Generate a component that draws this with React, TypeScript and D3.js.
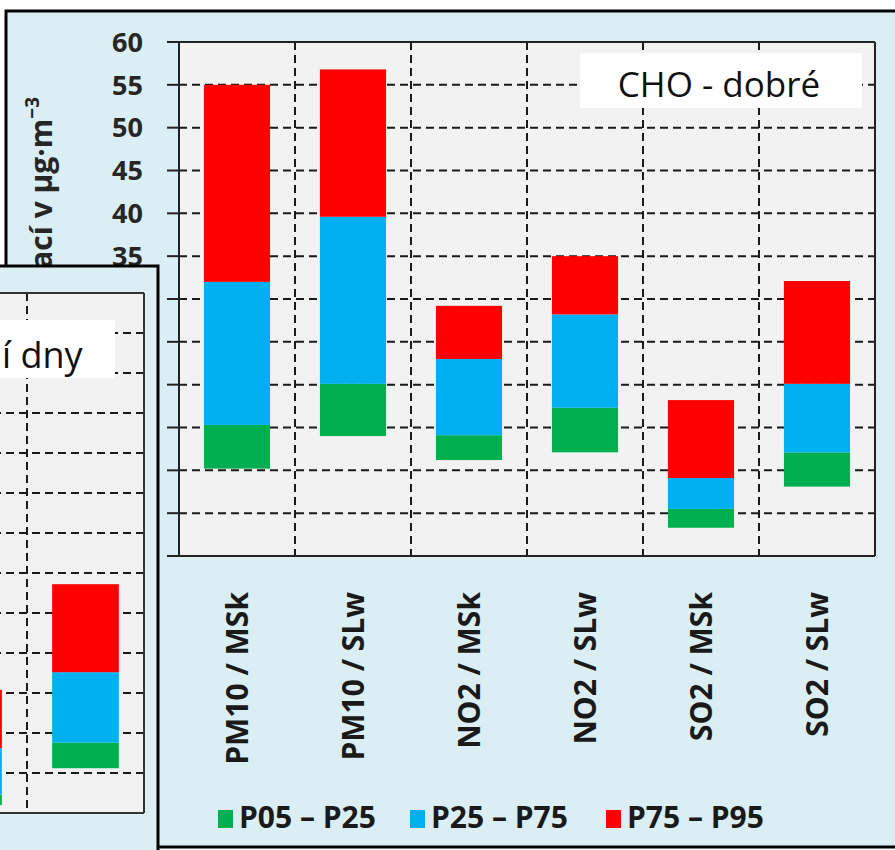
import React from "react";
import * as d3 from "d3";

// Main chart (CHO - dobré)
const categories = ["PM10 / MSk", "PM10 / SLw", "NO2 / MSk", "NO2 / SLw", "SO2 / MSk", "SO2 / SLw"];
const p05 = [10.2, 14.0, 11.2, 12.1, 3.3, 8.1];
const p25 = [15.3, 20.1, 14.1, 17.3, 5.5, 12.1];
const p75 = [32.0, 39.6, 23.0, 28.2, 9.1, 20.1];
const p95 = [55.0, 56.8, 29.2, 35.0, 18.2, 32.1];
const yTicks = [0, 5, 10, 15, 20, 25, 30, 35, 40, 45, 50, 55, 60];

// Overlapping chart (only its last two categories are visible)
const smallCategories = ["SO2 / MSk", "SO2 / SLw"];
const smallP05 = [1.0, 5.6];
const smallP25 = [2.3, 8.8];
const smallP75 = [8.1, 17.6];
const smallP95 = [15.4, 28.6];
const smallTicks = [0, 5, 10, 15, 20, 25, 30, 35, 40, 45, 50, 55, 60, 65];

const seriesNames = ["P05 – P25", "P25 – P75", "P75 – P95"];
const seriesColors = ["#00B050", "#00B0F0", "#FF0000"];

const FONT = "'Open Sans', 'DejaVu Sans', sans-serif";
const PANEL = "#DAEEF3";
const PLOT = "#F2F2F2";
const GRID = "#1a1a1a";

export default function App() {
  const W = 895, H = 850;
  // main plot geometry
  const pl = 179, pr = 875, pt = 42, pb = 556;
  const x = d3.scaleBand<string>().domain(categories).range([pl, pr]).paddingInner(0.43).paddingOuter(0.215);
  const y = d3.scaleLinear().domain([0, 60]).range([pb, pt]);
  const step = x.step();

  const stacks = categories.map((c, i) => [
    [p05[i], p25[i]],
    [p25[i], p75[i]],
    [p75[i], p95[i]],
  ]);

  // small plot geometry
  const sl = -90, sr = 144, st = 293, sb = 813;
  const sx = d3.scaleBand<string>().domain(smallCategories).range([sl, sr]).paddingInner(0.43).paddingOuter(0.215);
  const sy = d3.scaleLinear().domain([0, 65]).range([sb, st]);
  const sstep = sx.step();
  const sstacks = smallCategories.map((c, i) => [
    [smallP05[i], smallP25[i]],
    [smallP25[i], smallP75[i]],
    [smallP75[i], smallP95[i]],
  ]);

  const legendX = [218, 410, 606];

  return (
    <div style={{ position: "absolute", left: 0, top: 0 }}>
      <svg width={W} height={H} style={{ display: "block", fontFamily: FONT }}>
        <rect x={0} y={0} width={W} height={H} fill="#ffffff" />

        {/* ===== main panel ===== */}
        <rect x={6} y={11} width={W + 20} height={836} fill={PANEL} stroke="#000" strokeWidth={3} />
        <rect x={pl} y={pt} width={pr - pl} height={pb - pt} fill={PLOT} />

        {/* horizontal grid */}
        {yTicks.filter((t) => t > 0 && t < 60).map((t) => (
          <line key={"hg" + t} x1={pl} x2={pr} y1={y(t)} y2={y(t)} stroke={GRID} strokeWidth={2} strokeDasharray="8,5" />
        ))}
        {/* vertical grid at category boundaries */}
        {categories.slice(1).map((c) => {
          const bx = (x(c) as number) - (step * x.paddingInner()) / 2;
          return <line key={"vg" + c} x1={bx} x2={bx} y1={pt} y2={pb} stroke={GRID} strokeWidth={2} strokeDasharray="8,5" />;
        })}

        {/* bars */}
        {categories.map((c, i) =>
          stacks[i].map((seg, k) => (
            <rect
              key={c + k}
              x={x(c)}
              width={x.bandwidth()}
              y={y(seg[1])}
              height={y(seg[0]) - y(seg[1])}
              fill={seriesColors[k]}
            />
          ))
        )}

        {/* plot borders and axis */}
        <line x1={pl - 12} x2={pr} y1={pt} y2={pt} stroke="#222" strokeWidth={2} />
        <line x1={pl - 12} x2={pr} y1={pb} y2={pb} stroke="#222" strokeWidth={2} />
        <line x1={pl} x2={pl} y1={pt} y2={pb} stroke="#222" strokeWidth={2} />
        <line x1={pr} x2={pr} y1={pt} y2={pb} stroke="#222" strokeWidth={2} />
        {yTicks.map((t) => (
          <line key={"tk" + t} x1={pl - 12} x2={pl} y1={y(t)} y2={y(t)} stroke="#222" strokeWidth={2} />
        ))}
        {yTicks.map((t) => (
          <text key={"tl" + t} x={143} y={y(t)} dy="0.36em" textAnchor="end" fontSize={27} fontWeight={700} fill="#262626">
            {t}
          </text>
        ))}

        {/* title box */}
        <rect x={580} y={53} width={282} height={55} fill="#ffffff" />
        <text x={719} y={97} textAnchor="middle" fontSize={35} fill="#111">
          CHO - dobré
        </text>

        {/* y axis label */}
        <text transform={`translate(52,97) rotate(-90)`} textAnchor="end" fontSize={30} fontWeight={700} fill="#262626">
          Rozsah koncentrací v µg·m
          <tspan baselineShift="super" fontSize={19}>−3</tspan>
        </text>

        {/* x labels */}
        {categories.map((c) => (
          <text
            key={"xl" + c}
            transform={`translate(${(x(c) as number) + x.bandwidth() / 2},592) rotate(-90)`}
            dy="0.36em"
            textAnchor="end"
            fontSize={30}
            fontWeight={700}
            fill="#1a1a1a"
          >
            {c}
          </text>
        ))}

        {/* legend */}
        {seriesNames.map((s, k) => (
          <g key={"lg" + s}>
            <rect x={legendX[k]} y={810} width={15} height={18} fill={seriesColors[k]} />
            <text x={legendX[k] + 21} y={828} fontSize={30} fontWeight={700} fill="#1a1a1a">
              {s}
            </text>
          </g>
        ))}

        {/* ===== overlapping panel ===== */}
        <rect x={-20} y={266} width={178} height={620} fill={PANEL} stroke="#000" strokeWidth={3} />
        <rect x={-20} y={st} width={sr + 20} height={sb - st} fill={PLOT} />
        {smallTicks.filter((t) => t > 0 && t < 65).map((t) => (
          <line key={"shg" + t} x1={-20} x2={sr} y1={sy(t)} y2={sy(t)} stroke={GRID} strokeWidth={2} strokeDasharray="8,5" />
        ))}
        {smallCategories.slice(1).map((c) => {
          const bx = (sx(c) as number) - (sstep * sx.paddingInner()) / 2;
          return <line key={"svg" + c} x1={bx} x2={bx} y1={st} y2={sb} stroke={GRID} strokeWidth={2} strokeDasharray="8,5" />;
        })}
        {smallCategories.map((c, i) =>
          sstacks[i].map((seg, k) => (
            <rect
              key={"s" + c + k}
              x={sx(c)}
              width={sx.bandwidth()}
              y={sy(seg[1])}
              height={sy(seg[0]) - sy(seg[1])}
              fill={seriesColors[k]}
            />
          ))
        )}
        <line x1={-20} x2={sr} y1={st} y2={st} stroke="#333" strokeWidth={2} />
        <line x1={-20} x2={sr} y1={sb} y2={sb} stroke="#333" strokeWidth={2} />
        <line x1={sr} x2={sr} y1={st} y2={sb} stroke="#333" strokeWidth={2} />
        <rect x={-20} y={320} width={135} height={58} fill="#ffffff" />
        <text x={2} y={368} textAnchor="start" fontSize={36} fill="#111">
          í dny
        </text>
      </svg>
    </div>
  );
}
